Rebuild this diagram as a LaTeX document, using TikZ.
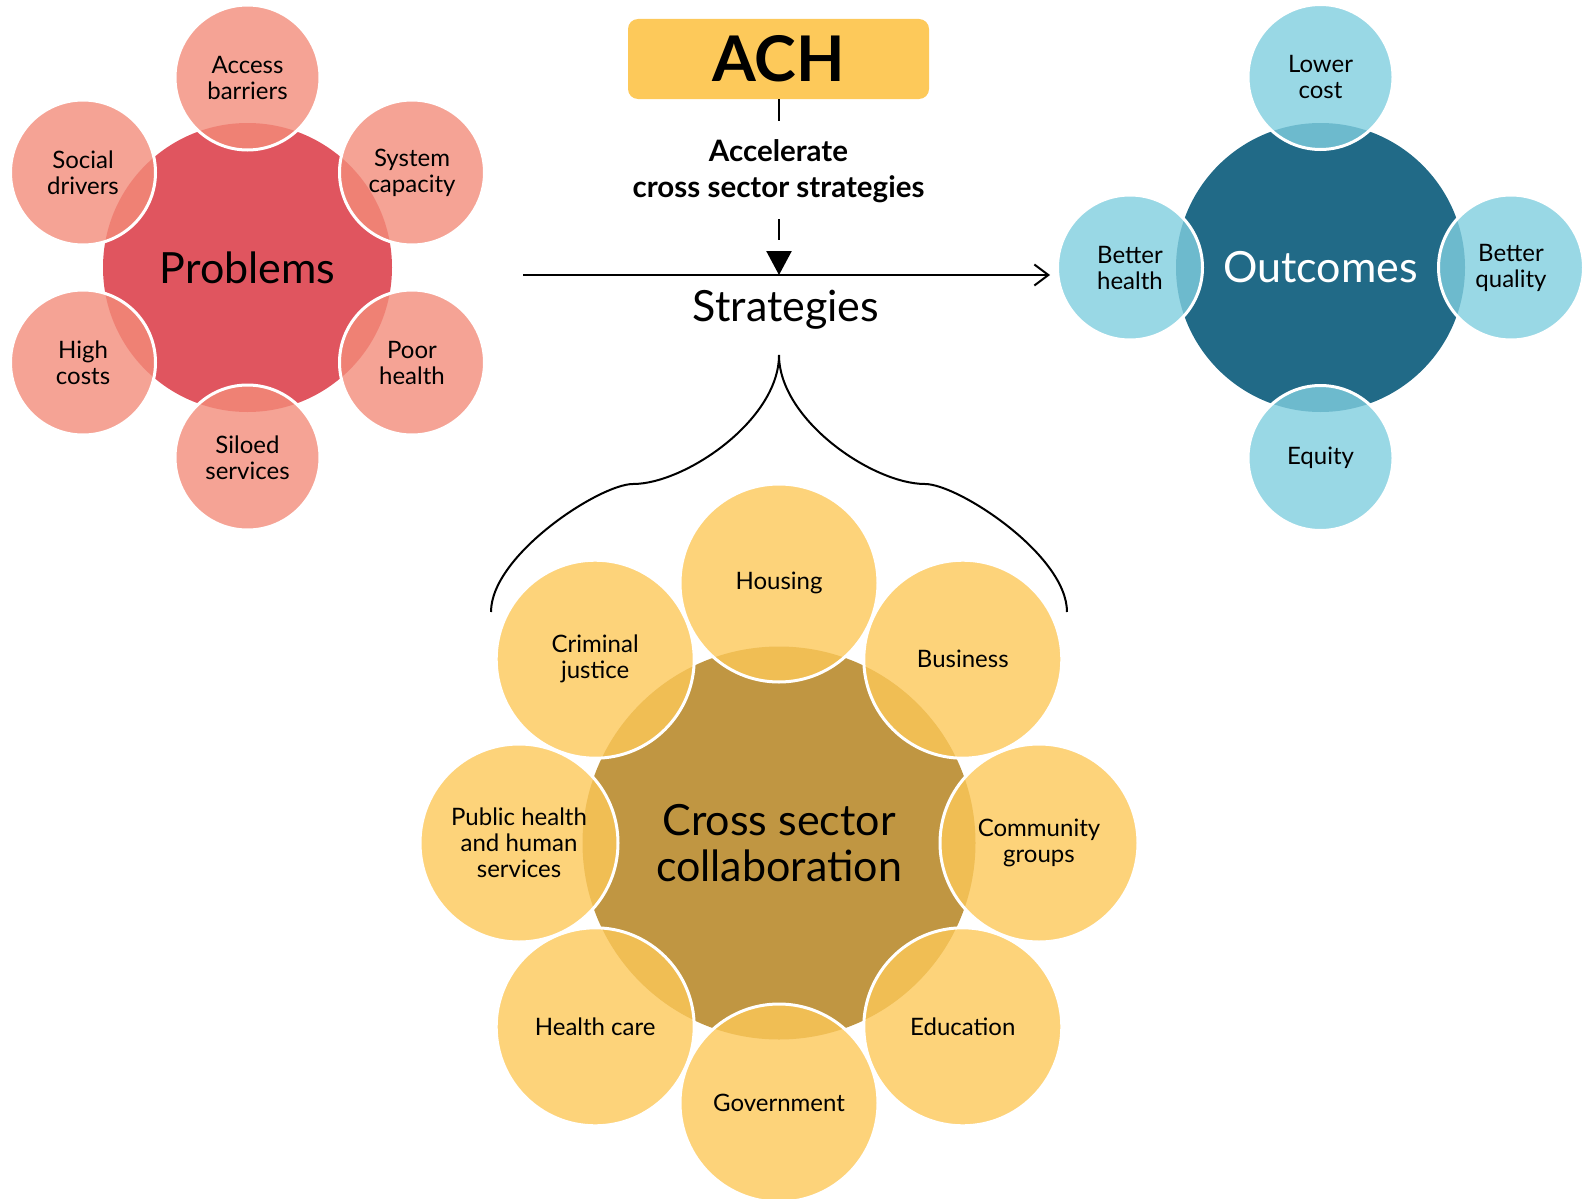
\documentclass[tikz,border=0pt]{standalone}
\usepackage{fontspec}
\setmainfont{Lato}
\usetikzlibrary{arrows.meta}
\definecolor{probbig}{HTML}{E0555F}
\definecolor{probsat}{HTML}{F38C7A}
\definecolor{outbig}{HTML}{216A87}
\definecolor{outsat}{HTML}{80CEDF}
\definecolor{crossbig}{HTML}{C09642}
\definecolor{crosssat}{HTML}{FCC859}
\definecolor{achbox}{HTML}{FDC95A}
\begin{document}
\begin{tikzpicture}[x=1pt,y=-1pt,
  sat/.style={circle, draw=white, line width=3pt, fill opacity=0.8, draw opacity=1, text opacity=1, inner sep=0pt, align=center, font=\fontsize{24}{26}\selectfont},
  psat/.style={sat, fill=probsat, minimum size=145pt},
  osat/.style={sat, fill=outsat, minimum size=145pt},
  csat/.style={sat, fill=crosssat, minimum size=198pt},
  big/.style={circle, inner sep=0pt, align=center, font=\fontsize{43}{46.5}\selectfont},
  line/.style={line width=2pt, black},
]
\useasboundingbox (0,0) rectangle (1583,1199);

% Problems
\node[big, fill=probbig, minimum size=289pt] (prob) at (247.5,267.5) {Problems};
\node[psat] (ab) at (247.5,77.5) {Access\\barriers};
\node[psat] (sc) at (412,172.5) {System\\capacity};
\node[psat] (ph) at (412,362.5) {Poor\\health};
\node[psat] (ss) at (247.5,457.5) {Siloed\\services};
\node[psat] (hc) at (83,362.5) {High\\costs};
\node[psat] (sd) at (83,172.5) {Social\\drivers};

% Outcomes
\node[big, fill=outbig, minimum size=289pt, text=white] (out) at (1320.5,267.5) {Outcomes};
\node[osat] (lc) at (1320.5,77) {Lower\\cost};
\node[osat] (bq) at (1511,267.5) {Better\\quality};
\node[osat] (eq) at (1320.5,458) {Equity};
\node[osat] (bh) at (1130,267.5) {Better\\health};

% Cross sector
\node[big, fill=crossbig, minimum size=393pt] (cross) at (779,843) {Cross sector\\collaboration};
\node[csat] (hou) at (779,583) {Housing};
\node[csat] (bus) at (962.8,659.2) {Business};
\node[csat] (com) at (1039,843) {Community\\groups};
\node[csat] (edu) at (962.8,1026.8) {Education};
\node[csat] (gov) at (779,1103) {Government};
\node[csat] (hca) at (595.2,1026.8) {Health care};
\node[csat] (pub) at (519,843) {Public health\\and human\\services};
\node[csat] (cri) at (595.2,659.2) {Criminal\\justice};

% ACH
\node[fill=achbox, rounded corners=10pt, minimum width=301pt, minimum height=80pt, inner sep=0pt, font=\bfseries\fontsize{63}{70}\selectfont] (ach) at (778.5,59) {ACH};
\node[font=\bfseries\fontsize{29.5}{36}\selectfont, align=center] (acc) at (778.5,171) {Accelerate\\cross sector strategies};
\coordinate (d1) at (779,121);
\coordinate (d2) at (779,219);
\coordinate (tip) at (779,275);
\draw[line width=2.5pt] (ach.south -| d1) -- (d1);
\draw[line width=2.5pt, dash pattern=on 21pt off 12pt, -{Triangle[length=24pt,width=25pt]}] (d2) -- (tip);

% Strategies line
\coordinate (hl) at (523,275);
\draw[line, -{Straight Barb[length=14pt,width=21pt,line width=2pt]}, shorten >=6pt] (hl) -- (bh.west |- hl);
\node[font=\fontsize{43}{48}\selectfont] (str) at (786,310) {Strategies};

% Brace
\coordinate (bl) at (491,612);
\coordinate (btip) at (779,355);
\coordinate (br) at (1067,612);
\draw[line] (bl) .. controls (491,555) and (600,484) .. (633,484)
  .. controls (685,484) and (779,420) .. (btip)
  .. controls (779,420) and (873,484) .. (925,484)
  .. controls (958,484) and (1067,555) .. (br);
\end{tikzpicture}
\end{document}
